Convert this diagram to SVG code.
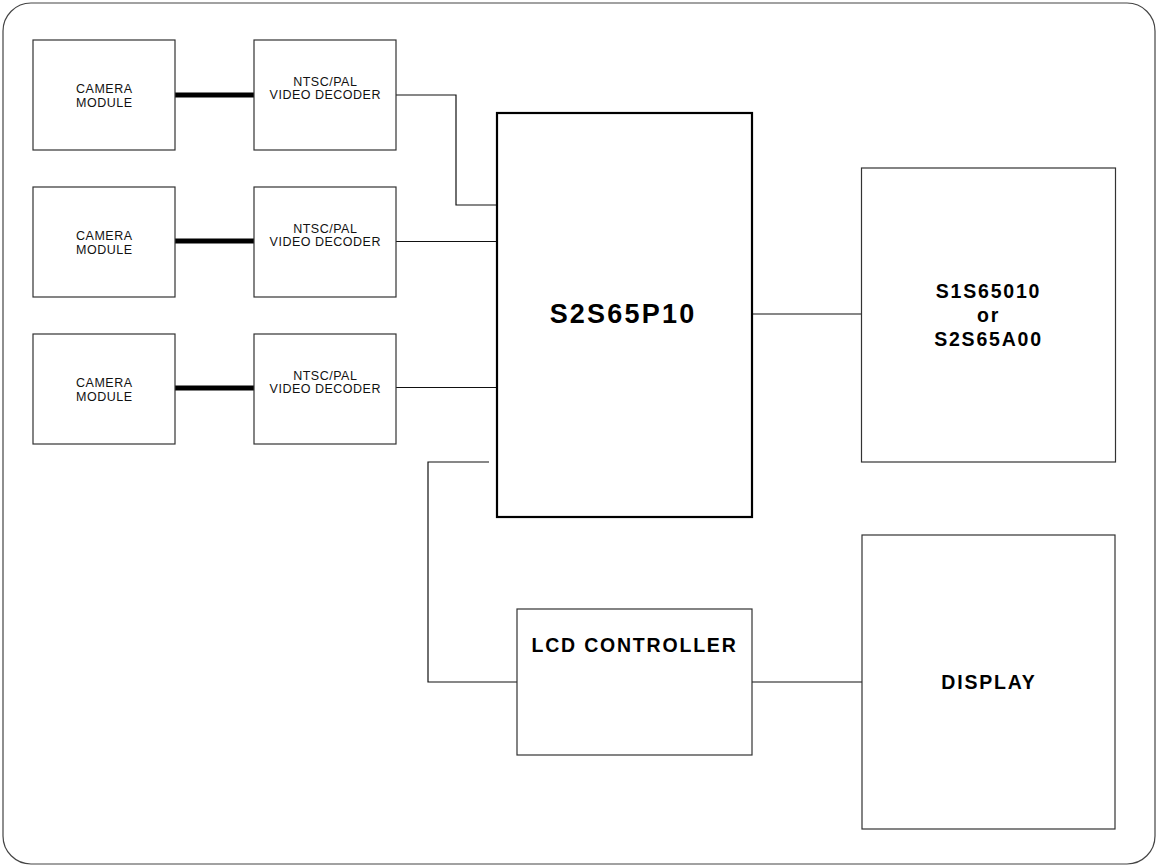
<svg xmlns="http://www.w3.org/2000/svg" width="1156" height="866" viewBox="0 0 1156 866">
<style>
.box{fill:#fff;stroke:#333;stroke-width:1.2}
.main{fill:#fff;stroke:#000;stroke-width:2.2}
.small{font-family:"Liberation Sans",Arial,sans-serif;font-size:12.5px;letter-spacing:0.5px;fill:#111;text-anchor:middle}
.big{font-family:"Liberation Sans",Arial,sans-serif;font-weight:bold;font-size:19.5px;letter-spacing:1.8px;fill:#000;text-anchor:middle}
.huge{font-family:"Liberation Sans",Arial,sans-serif;font-weight:bold;font-size:27px;letter-spacing:2.2px;fill:#000;text-anchor:middle}
.wire{fill:none;stroke:#111;stroke-width:1.2}
.thick{fill:none;stroke:#000;stroke-width:5;stroke-linecap:round}
</style>
<rect x="0" y="0" width="1156" height="866" fill="#fff"/>
<rect id="frame" x="3" y="3" width="1152" height="861" rx="28" ry="28" fill="none" stroke="#444" stroke-width="1.2"/>
<g id="connectors">
<line class="thick" x1="175" y1="95" x2="255" y2="95"/>
<line class="thick" x1="175" y1="241" x2="255" y2="241"/>
<line class="thick" x1="175" y1="388" x2="255" y2="388"/>
<polyline class="wire" points="396,95 456,95 456,205 497,205"/>
<line class="wire" x1="396" y1="241.5" x2="497" y2="241.5"/>
<line class="wire" x1="396" y1="387.5" x2="497" y2="387.5"/>
<polyline class="wire" points="489,462 428,462 428,682 517,682"/>
<line class="wire" x1="752" y1="314" x2="862" y2="314"/>
<line class="wire" x1="752" y1="682" x2="862" y2="682"/>
</g>
<g id="camera1"><rect class="box" x="33" y="40" width="142" height="110"/><text class="small" x="104.3" y="93">CAMERA</text><text class="small" x="104.3" y="106.5">MODULE</text></g>
<g id="camera2"><rect class="box" x="33" y="187" width="142" height="110"/><text class="small" x="104.3" y="240">CAMERA</text><text class="small" x="104.3" y="253.5">MODULE</text></g>
<g id="camera3"><rect class="box" x="33" y="334" width="142" height="110"/><text class="small" x="104.3" y="387">CAMERA</text><text class="small" x="104.3" y="400.5">MODULE</text></g>
<g id="decoder1"><rect class="box" x="254" y="40" width="142" height="110"/><text class="small" x="325.3" y="86">NTSC/PAL</text><text class="small" x="325.3" y="99">VIDEO DECODER</text></g>
<g id="decoder2"><rect class="box" x="254" y="187" width="142" height="110"/><text class="small" x="325.3" y="233">NTSC/PAL</text><text class="small" x="325.3" y="246">VIDEO DECODER</text></g>
<g id="decoder3"><rect class="box" x="254" y="334" width="142" height="110"/><text class="small" x="325.3" y="380">NTSC/PAL</text><text class="small" x="325.3" y="393">VIDEO DECODER</text></g>
<g id="s2s65p10"><rect class="main" x="497" y="113" width="255" height="404"/><text class="huge" x="623" y="323">S2S65P10</text></g>
<g id="s1s65010"><rect class="box" x="861.5" y="168" width="254" height="294"/><text class="big" x="988.5" y="298">S1S65010</text><text class="big" x="988.5" y="322">or</text><text class="big" x="988.5" y="346">S2S65A00</text></g>
<g id="lcd"><rect class="box" x="517" y="609" width="235" height="146"/><text class="big" x="634.5" y="652">LCD CONTROLLER</text></g>
<g id="display"><rect class="box" x="862" y="535" width="253" height="294"/><text class="big" x="989" y="689">DISPLAY</text></g>
</svg>
